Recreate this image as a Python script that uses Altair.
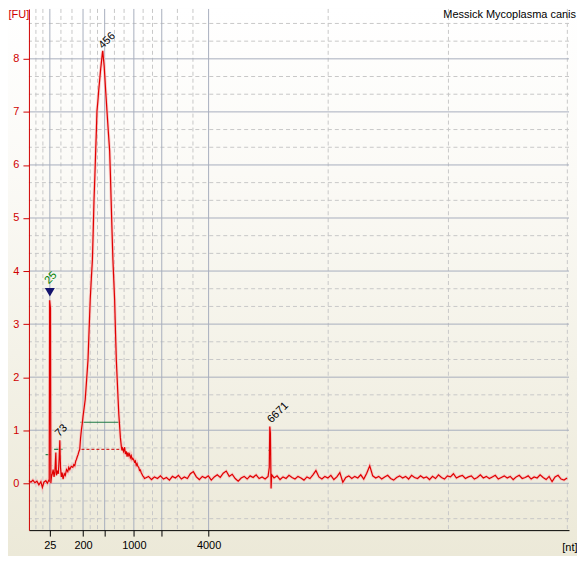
import altair as alt
import pandas as pd

# ---------------- data ----------------
# x axis = migration time (s); ladder sizes (nt) label the major ticks
ladder_t = [21.1, 24.43, 26.6, 29.53, 32.33, 37.03]
ladder_lbl = ["25", "200", "", "1000", "", "4000"]
minor_t = [19.7, 20.4, 22.21, 23.32, 25.15, 25.88, 27.58, 28.55, 30.46, 31.4,
           33.9, 35.46, 49.03, 61.1, 73.03]
fu_major = [0, 1, 2, 3, 4, 5, 6, 7, 8]
fu_minor = [-0.667, -0.333, 0.333, 0.667, 1.333, 1.667, 2.333, 2.667, 3.333, 3.667,
            4.333, 4.667, 5.333, 5.667, 6.333, 6.667, 7.333, 7.667, 8.333, 8.667]

# trace: start, marker, 73 nt and main (456 nt) peak
peak_t = [19.00, 19.20, 19.40, 19.60, 19.80, 20.00, 20.20, 20.35, 20.50, 20.70,
          20.85, 21.00, 21.04, 21.08, 21.16, 21.20, 21.26, 21.35, 21.43, 21.52,
          21.60, 21.70, 21.76, 21.85, 21.95, 22.03, 22.10, 22.17, 22.25, 22.33,
          22.43, 22.55, 22.65, 22.77, 22.90, 23.00, 23.10, 23.25, 23.40, 23.50,
          23.60, 23.70, 23.77, 23.85, 23.93, 24.02, 24.10, 24.18, 24.27, 24.35,
          24.43, 24.54, 24.65, 24.79, 24.93, 25.04, 25.15, 25.26, 25.37, 25.45,
          25.53, 25.62, 25.70, 25.77, 25.83, 25.92, 26.00, 26.10, 26.20, 26.30,
          26.37, 26.41, 26.48, 26.55, 26.63, 26.70, 26.77, 26.83, 26.96, 27.10,
          27.18, 27.25, 27.34, 27.43, 27.51, 27.60, 27.68, 27.77, 27.86, 27.95,
          28.02, 28.10, 28.18, 28.27, 28.34, 28.40, 28.50, 28.60, 28.68, 28.77,
          28.85, 28.93, 29.02, 29.10, 29.18, 29.27, 29.35, 29.43, 29.52, 29.60,
          29.68, 29.77, 29.85, 29.93, 30.02, 30.10, 30.18, 30.27, 30.35, 30.43,
          30.52, 30.60]
peak_fu = [0.05, 0.02, 0.06, 0.01, 0.04, -0.03, 0.03, -0.08, 0.02, 0.05,
           0.00, 0.06, 0.05, 3.45, 3.30, 0.00, 0.12, 0.18, 0.26, 0.12,
           0.20, 0.58, 0.15, 0.22, 0.18, 0.45, 0.81, 0.30, 0.12, 0.20,
           0.08, 0.18, 0.15, 0.26, 0.22, 0.30, 0.26, 0.32, 0.30, 0.35,
           0.33, 0.42, 0.45, 0.50, 0.54, 0.60, 0.64, 0.85, 1.01, 1.12,
           1.26, 1.42, 1.58, 1.95, 2.33, 2.90, 3.46, 3.85, 4.21, 4.75,
           5.33, 5.80, 6.27, 6.65, 7.02, 7.20, 7.40, 7.60, 7.81, 7.98,
           8.11, 8.15, 8.00, 7.87, 7.62, 7.40, 7.20, 7.02, 6.65, 6.27,
           5.80, 5.33, 4.75, 4.21, 3.85, 3.46, 2.90, 2.33, 1.95, 1.58,
           1.30, 1.08, 0.86, 0.70, 0.62, 0.66, 0.60, 0.68, 0.55, 0.60,
           0.50, 0.58, 0.52, 0.55, 0.48, 0.52, 0.45, 0.47, 0.44, 0.40,
           0.42, 0.34, 0.37, 0.32, 0.30, 0.24, 0.25, 0.20, 0.17, 0.14,
           0.12, 0.09]

# baseline after the main peak, sampled every 0.3 s from 30.7 s
base_t0 = 30.7
base_dt = 0.3
base_fu = [0.10, 0.13, 0.07, 0.12, 0.09, 0.14, 0.08, 0.11, 0.06, 0.13,
           0.10, 0.15, 0.08, 0.12, 0.09, 0.18, 0.22, 0.12, 0.07, 0.13,
           0.10, 0.14, 0.06, 0.12, 0.16, 0.11, 0.19, 0.23, 0.13, 0.17,
           0.09, 0.04, 0.10, 0.13, 0.08, 0.14, 0.11, 0.16, 0.09, 0.12,
           0.08, 0.13, -0.10, 0.10, 0.14, 0.07, 0.12, 0.09, 0.15, 0.11,
           0.08, 0.13, 0.10, 0.06, 0.12, 0.09, 0.16, 0.24, 0.12, 0.08,
           0.13, 0.10, 0.15, 0.07, 0.12, 0.20, 0.02, 0.11, 0.14, 0.09,
           0.13, 0.10, 0.16, 0.08, 0.19, 0.33, 0.14, 0.10, 0.13, 0.08,
           0.12, 0.15, 0.09, 0.06, 0.11, 0.14, 0.10, 0.13, 0.08, 0.15,
           0.11, 0.09, 0.14, 0.10, 0.12, 0.07, 0.13, 0.09, 0.16, 0.11,
           0.08, 0.14, 0.12, 0.18, 0.10, 0.13, 0.15, 0.09, 0.12, 0.14,
           0.08, 0.11, 0.16, 0.10, 0.13, 0.09, 0.12, 0.15, 0.08, 0.11,
           0.14, 0.10, 0.13, 0.07, 0.12, 0.15, 0.09, 0.11, 0.14, 0.08,
           0.12, 0.10, 0.16, 0.11, 0.07, 0.13, 0.03, 0.12, 0.15, 0.08,
           0.06, 0.10]

# 6671 nt spike
spike_t = [43.12, 43.17, 43.23, 43.36]
spike_fu = [0.30, 1.07, 0.95, 0.16]

# peak labels
lab_text = ["25", "73", "456", "6671"]
lab_t = [21.2, 22.27, 26.85, 44.0]
lab_fu = [3.87, 0.99, 8.34, 1.33]
lab_color = ["#008000", "black", "black", "black"]

# marker triangle (lower marker 25 nt)
marker_t = [21.1]
marker_fu = [3.60]

# peak-window (green) and baseline (dashed red) segments
win_t1 = [24.17, 20.67, 21.53, 42.99]
win_t2 = [28.17, 21.20, 22.37, 43.30]
win_fu = [1.15, 0.54, 0.64, 0.62]
basel_t1 = [24.27]
basel_t2 = [28.40]
basel_fu = [0.64]

sample_title = "Messick Mycoplasma canis"

# ---------------- build ----------------
W, H = 542, 523
RED = "#D00000"
FONT = "Liberation Sans"

base_t = [round(base_t0 + base_dt * i, 3) for i in range(len(base_fu))]
trace = pd.DataFrame({"t": peak_t + base_t + spike_t, "fu": peak_fu + base_fu + spike_fu})
trace = trace.sort_values("t").reset_index(drop=True)

xs = alt.Scale(domain=[19, 73.2], nice=False, zero=False)
ys = alt.Scale(domain=[-0.883, 8.94], nice=False, zero=False)

expr = "''"
for t, l in reversed(list(zip(ladder_t, ladder_lbl))):
    expr = f"(round(datum.value*100)=={int(round(t*100))} ? '{l}' : {expr})"

xaxis = alt.Axis(values=ladder_t, labelExpr=expr, grid=False, domainColor="black",
                 tickColor="black", tickSize=6, labelColor="black", labelFont=FONT,
                 labelFontSize=11, labelPadding=3, titleFont=FONT, titleFontSize=11,
                 titleFontWeight="normal", titleColor="black", titleX=550, titleY=17,
                 titleAlign="right", titleBaseline="middle", zindex=1)
yaxis = alt.Axis(values=fu_major, format="d", grid=False, domainColor=RED, tickColor=RED,
                 tickSize=6, labelColor=RED, labelFont=FONT, labelFontSize=11,
                 labelPadding=4, titleFont=FONT, titleFontSize=11, titleFontWeight="normal",
                 titleColor=RED, titleAngle=0, titleX=-21, titleY=0, titleAlign="left",
                 titleBaseline="top", zindex=1)

def X(f):
    return alt.X(f, title="[nt]", scale=xs, axis=xaxis)

def Y(f):
    return alt.Y(f, title="[FU]", scale=ys, axis=yaxis)

one = pd.DataFrame({"a": [0]})
grad = alt.LinearGradient(gradient="linear",
                          stops=[alt.GradientStop(color="#FFFFFF", offset=0),
                                 alt.GradientStop(color="#FBFAF6", offset=0.3),
                                 alt.GradientStop(color="#ECE9D8", offset=1)],
                          x1=0, x2=0, y1=0, y2=1)
bg = alt.Chart(one).mark_rect(color=grad).encode(
    x=alt.value(-21), x2=alt.value(W + 8), y=alt.value(0), y2=alt.value(H + 26))

gx_minor = alt.Chart(pd.DataFrame({"t": minor_t})).mark_rule(
    color="#C8C8C8", strokeDash=[4, 3], strokeWidth=1).encode(x=X("t:Q"))
gy_minor = alt.Chart(pd.DataFrame({"fu": fu_minor})).mark_rule(
    color="#C8C8C8", strokeDash=[4, 3], strokeWidth=1).encode(y=Y("fu:Q"))
gx_major = alt.Chart(pd.DataFrame({"t": ladder_t})).mark_rule(
    color="#A8AFBE", strokeWidth=1).encode(x=X("t:Q"))
gy_major = alt.Chart(pd.DataFrame({"fu": fu_major})).mark_rule(
    color="#A8AFBE", strokeWidth=1).encode(y=Y("fu:Q"))

basel = alt.Chart(pd.DataFrame({"t": basel_t1, "t2": basel_t2, "fu": basel_fu})).mark_rule(
    color=RED, strokeDash=[3, 2], strokeWidth=1).encode(x=X("t:Q"), x2="t2:Q", y=Y("fu:Q"))
win = alt.Chart(pd.DataFrame({"t": win_t1, "t2": win_t2, "fu": win_fu})).mark_rule(
    color="#1F7A45", strokeWidth=1.2).encode(x=X("t:Q"), x2="t2:Q", y=Y("fu:Q"))

halo = alt.Chart(trace).mark_line(color="#F6B8B8", strokeWidth=3, opacity=0.7,
                                  interpolate="linear").encode(x=X("t:Q"), y=Y("fu:Q"))
line = alt.Chart(trace).mark_line(color="#E00000", strokeWidth=1.2,
                                  interpolate="linear").encode(x=X("t:Q"), y=Y("fu:Q"))

marker = alt.Chart(pd.DataFrame({"t": marker_t, "fu": marker_fu})).mark_point(
    shape="triangle-down", filled=True, color="#14146E", size=100, opacity=1).encode(
    x=X("t:Q"), y=Y("fu:Q"))

labels = alt.Chart(pd.DataFrame({"t": lab_t, "fu": lab_fu, "txt": lab_text, "c": lab_color})).mark_text(
    angle=315, align="center", baseline="middle", font=FONT, fontSize=11).encode(
    x=X("t:Q"), y=Y("fu:Q"), text="txt:N", color=alt.Color("c:N", scale=None))

title_txt = alt.Chart(one).mark_text(
    text=sample_title, align="right", baseline="top", font=FONT, fontSize=11,
    color="black").encode(x=alt.value(W + 7), y=alt.value(0))

chart = alt.layer(bg, gx_minor, gy_minor, gx_major, gy_major, basel, win, halo, line,
                  marker, labels, title_txt).properties(
    width=W, height=H,
    autosize=alt.AutoSizeParams(type="none"),
    padding={"left": 21, "top": 0, "right": 8, "bottom": 26},
).configure_view(strokeWidth=0).configure(background="white")

chart.save("out.html", embed_options={"renderer": "svg", "actions": False})
